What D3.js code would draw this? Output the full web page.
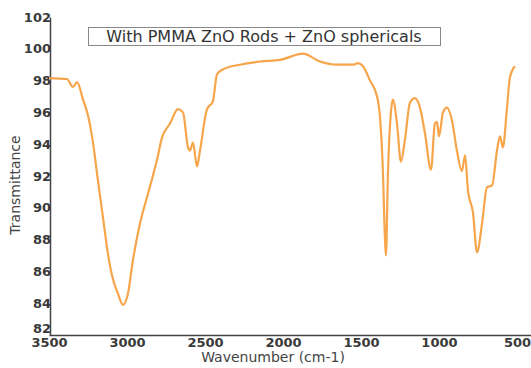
<!DOCTYPE html>
<html>
<head>
<meta charset="utf-8">
<script src="https://d3js.org/d3.v7.min.js"></script>
<style>
  body { margin: 0; background: #fff; }
  svg { display: block; }
</style>
</head>
<body>
<div id="graph"></div>
<script>
    // FTIR spectrum
    var wavenumber = [3500, 3385, 3346, 3320, 3282, 3250, 3218, 3186, 3154, 3122, 3090, 3058, 3026,
        2994, 2962, 2917, 2865, 2808, 2776, 2724, 2673, 2641, 2609, 2596, 2577, 2551, 2532,
        2487, 2449, 2423, 2385, 2276, 2147, 2019, 1872, 1763, 1654, 1551, 1519, 1487, 1442,
        1397, 1378, 1359, 1346, 1340, 1327, 1308, 1295, 1269, 1244, 1218, 1186, 1154, 1122,
        1090, 1051, 1026, 1013, 1000, 974, 949, 917, 885, 853, 833, 814, 782, 756, 724, 692,
        660, 628, 609, 590, 564, 545, 513];
    var transmittance = [98.16, 98.1, 97.6, 97.9, 96.8, 95.8, 94.1, 91.7, 89.4, 87.1, 85.5, 84.6, 83.9,
        84.6, 86.7, 89.0, 90.9, 93.0, 94.4, 95.3, 96.2, 96.0, 93.8, 93.6, 94.1, 92.6, 93.6,
        96.2, 96.7, 98.4, 98.7, 99.0, 99.2, 99.3, 99.7, 99.2, 99.0, 99.0, 99.1, 98.9, 98.0,
        97.0, 95.7, 92.2, 88.0, 87.0, 92.2, 96.0, 96.8, 95.3, 92.9, 94.3, 96.6, 96.9, 96.3,
        94.7, 92.4, 95.3, 95.4, 94.5, 96.0, 96.3, 95.5, 93.6, 92.3, 93.3, 91.1, 89.7, 87.2, 89.0, 91.3,
        91.4, 93.6, 94.5, 93.8, 96.3, 98.2, 98.9];

    var xTicks = [3500, 3000, 2500, 2000, 1500, 1000, 500];
    var yTicks = [82, 84, 86, 88, 90, 92, 94, 96, 98, 100, 102];
    var title = "With PMMA ZnO Rods + ZnO sphericals";

    var width = 531, height = 368;

    var svg = d3.select("#graph")
        .append("svg")
        .attr("width", width)
        .attr("height", height);

    var x = d3.scaleLinear()
        .domain([3500, 410])
        .range([49, 531]);

    var y = d3.scaleLinear()
        .domain([82, 102])
        .range([335, 17]);

    var xAxis = svg.append("g")
        .attr("transform", "translate(0,335)")
        .call(d3.axisBottom(x).tickValues(xTicks).tickSize(0).tickPadding(3).tickFormat(d3.format("d")));

    var yAxis = svg.append("g")
        .attr("transform", "translate(50,0)")
        .call(d3.axisLeft(y).tickValues(yTicks).tickSize(0).tickPadding(-1));

    [xAxis, yAxis].forEach(function (g) {
        g.select(".domain").attr("stroke", "#444").attr("stroke-width", 1.5);
        g.selectAll("text")
            .attr("fill", "#3a3a3a")
            .style("font-family", "DejaVu Sans")
            .style("font-weight", "bold")
            .style("font-size", "13px");
    });

    // lowest label sits on the x axis; lift it clear of "3500"
    yAxis.selectAll(".tick text")
        .filter(function (d) { return d === 82; })
        .attr("dy", "-0.2em");

    svg.append("text")
        .attr("x", 273)
        .attr("y", 362)
        .attr("text-anchor", "middle")
        .attr("fill", "#444")
        .style("font-family", "DejaVu Sans")
        .style("font-size", "14px")
        .text("Wavenumber (cm-1)");

    svg.append("text")
        .attr("transform", "translate(20,185) rotate(-90)")
        .attr("text-anchor", "middle")
        .attr("fill", "#444")
        .style("font-family", "DejaVu Sans")
        .style("font-size", "14px")
        .text("Transmittance");

    svg.append("rect")
        .attr("x", 88.5)
        .attr("y", 27.5)
        .attr("width", 352)
        .attr("height", 18)
        .attr("fill", "#fff")
        .attr("stroke", "#888");

    svg.append("text")
        .attr("x", 264)
        .attr("y", 42)
        .attr("text-anchor", "middle")
        .attr("fill", "#333")
        .style("font-family", "DejaVu Sans")
        .style("font-size", "16px")
        .text(title);

    var line = d3.line()
        .x(function (d, i) { return x(wavenumber[i]); })
        .y(function (d) { return y(d); })
        .curve(d3.curveMonotoneX);

    svg.append("path")
        .datum(transmittance)
        .attr("fill", "none")
        .attr("stroke", "#f7a54a")
        .attr("stroke-width", 2.2)
        .attr("d", line);
</script>
</body>
</html>
